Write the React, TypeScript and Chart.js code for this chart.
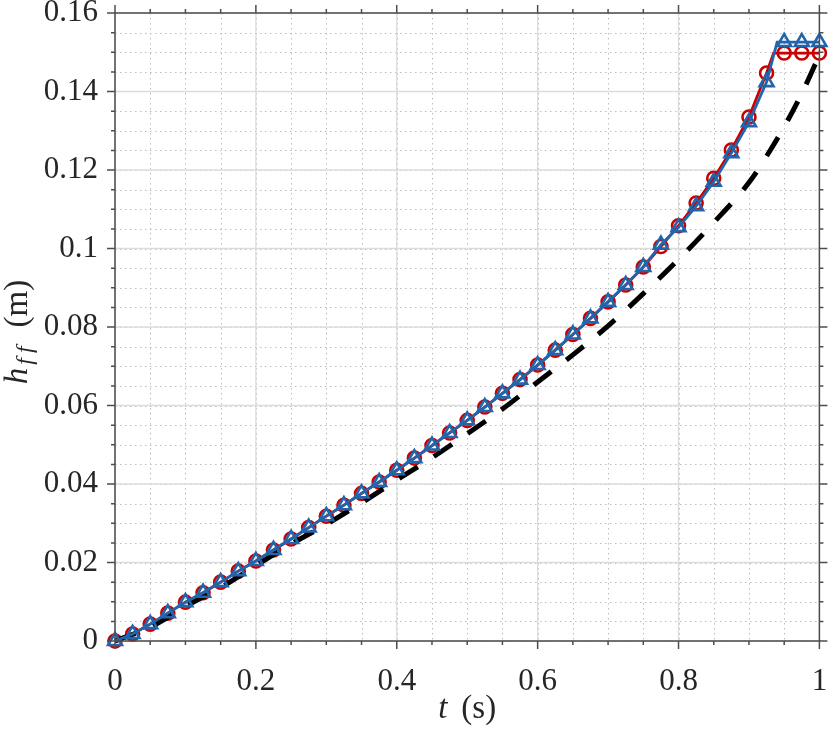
import React, { useEffect, useRef } from 'react';
import { Chart, registerables } from 'chart.js';

Chart.register(...registerables);

// ---------- data ----------
const tMarkers = [
  0, 0.025, 0.05, 0.075, 0.1, 0.125, 0.15, 0.175, 0.2, 0.225, 0.25, 0.275, 0.3, 0.325,
  0.35, 0.375, 0.4, 0.425, 0.45, 0.475, 0.5, 0.525, 0.55, 0.575, 0.6, 0.625, 0.65, 0.675,
  0.7, 0.725, 0.75, 0.775, 0.8, 0.825, 0.85, 0.875, 0.9, 0.925, 0.95, 0.975, 1,
];
const hRed = [
  0, 0.0018, 0.0043, 0.0071, 0.0099, 0.0123, 0.015, 0.0178, 0.0204, 0.0232, 0.026, 0.0289,
  0.0318, 0.0346, 0.0376, 0.0405, 0.0435, 0.0466, 0.0498, 0.053, 0.0562, 0.0596, 0.0631,
  0.0666, 0.0703, 0.0741, 0.0781, 0.0822, 0.0864, 0.0907, 0.0953, 0.1005, 0.1058, 0.1116,
  0.1179, 0.1251, 0.1335, 0.1447, 0.1498, 0.1498, 0.1498,
];
const hBlue = [
  0, 0.0018, 0.0043, 0.0071, 0.0099, 0.0123, 0.015, 0.0178, 0.0204, 0.0232, 0.026, 0.0289,
  0.0318, 0.0346, 0.0376, 0.0405, 0.0435, 0.0466, 0.0498, 0.053, 0.0562, 0.0596, 0.0631,
  0.0666, 0.0703, 0.0741, 0.0781, 0.0822, 0.0864, 0.0907, 0.0953, 0.101, 0.1054, 0.1108,
  0.117, 0.1243, 0.1322, 0.1424, 0.1526, 0.1526, 0.1526,
];
// where each series reaches its plateau (line only, no marker)
const redKink = { t: 0.935, h: 0.1498 };
const blueKink = { t: 0.94, h: 0.1526 };

const tDashed = [
  0, 0.05, 0.1, 0.15, 0.2, 0.25, 0.3, 0.35, 0.4, 0.45, 0.5, 0.55, 0.6, 0.65, 0.7, 0.75,
  0.8, 0.85, 0.9, 0.925, 0.95, 0.975, 1,
];
const hDashed = [
  0, 0.0035, 0.0088, 0.0136, 0.0192, 0.0247, 0.0297, 0.0352, 0.041, 0.0467, 0.0528,
  0.0591, 0.066, 0.0729, 0.0803, 0.0885, 0.0972, 0.1066, 0.1168, 0.1235, 0.131, 0.1395,
  0.1493,
];

const xMajorTicks = [0, 0.2, 0.4, 0.6, 0.8, 1];
const yMajorTicks = [0, 0.02, 0.04, 0.06, 0.08, 0.1, 0.12, 0.14, 0.16];
const xMinorStep = 0.05;
const yMinorStep = 0.005;

const FONT = "'Liberation Serif', 'Times New Roman', serif";
const RED = '#cc0000';
const BLUE = '#2166ac';
const AXIS = '#4d4d4d';
const TEXT = '#262626';

function seriesWithKink(ts: number[], hs: number[], kink: { t: number; h: number }) {
  const pts: any[] = ts.map((t, i) => ({ x: t, y: hs[i] }));
  const idx = pts.findIndex((p) => p.x > kink.t);
  pts.splice(idx, 0, { x: kink.t, y: kink.h, kink: true });
  return pts;
}

function minorValues(max: number, step: number) {
  const out: number[] = [];
  const n = Math.round(max / step);
  for (let i = 0; i <= n; i++) out.push(i * step);
  return out;
}

const axesPlugin = {
  id: 'matlabAxes',
  beforeDatasetsDraw(chart: any) {
    const { ctx, chartArea: a, scales } = chart;
    const x = scales.x;
    const y = scales.y;
    ctx.save();
    // minor dotted grid
    ctx.strokeStyle = '#bdbdbd';
    ctx.lineWidth = 1;
    ctx.setLineDash([1.5, 3.5]);
    for (const v of minorValues(1, xMinorStep)) {
      const px = Math.round(x.getPixelForValue(v)) + 0.5;
      ctx.beginPath();
      ctx.moveTo(px, a.top);
      ctx.lineTo(px, a.bottom);
      ctx.stroke();
    }
    for (const v of minorValues(0.16, yMinorStep)) {
      const py = Math.round(y.getPixelForValue(v)) + 0.5;
      ctx.beginPath();
      ctx.moveTo(a.left, py);
      ctx.lineTo(a.right, py);
      ctx.stroke();
    }
    // major grid
    ctx.setLineDash([]);
    ctx.strokeStyle = '#dcdcdc';
    ctx.lineWidth = 1.3;
    for (const v of xMajorTicks) {
      const px = x.getPixelForValue(v);
      ctx.beginPath();
      ctx.moveTo(px, a.top);
      ctx.lineTo(px, a.bottom);
      ctx.stroke();
    }
    for (const v of yMajorTicks) {
      const py = y.getPixelForValue(v);
      ctx.beginPath();
      ctx.moveTo(a.left, py);
      ctx.lineTo(a.right, py);
      ctx.stroke();
    }
    ctx.restore();
  },
  afterDatasetsDraw(chart: any) {
    const { ctx, chartArea: a, scales } = chart;
    const x = scales.x;
    const y = scales.y;
    ctx.save();
    ctx.strokeStyle = AXIS;
    ctx.lineWidth = 1.5;
    ctx.strokeRect(a.left, a.top, a.right - a.left, a.bottom - a.top);
    const isMajor = (v: number, list: number[]) => list.some((m) => Math.abs(m - v) < 1e-9);
    for (const v of minorValues(1, xMinorStep)) {
      const px = x.getPixelForValue(v);
      const len = isMajor(v, xMajorTicks) ? 8 : 4;
      ctx.beginPath();
      ctx.moveTo(px, a.bottom);
      ctx.lineTo(px, a.bottom + len);
      ctx.moveTo(px, a.top);
      ctx.lineTo(px, a.top - len);
      ctx.stroke();
    }
    for (const v of minorValues(0.16, yMinorStep)) {
      const py = y.getPixelForValue(v);
      const len = isMajor(v, yMajorTicks) ? 8 : 4;
      ctx.beginPath();
      ctx.moveTo(a.left, py);
      ctx.lineTo(a.left - len, py);
      ctx.moveTo(a.right, py);
      ctx.lineTo(a.right + len, py);
      ctx.stroke();
    }
    ctx.restore();
  },
  afterDraw(chart: any) {
    const { ctx, chartArea: a } = chart;
    ctx.save();
    ctx.fillStyle = TEXT;
    ctx.textBaseline = 'alphabetic';
    ctx.textAlign = 'left';
    // x title: t (s)
    const big = 33;
    const fItal = `italic ${big}px ${FONT}`;
    const fReg = `${big}px ${FONT}`;
    ctx.font = fItal;
    const wT = ctx.measureText('t').width;
    ctx.font = fReg;
    const wS = ctx.measureText('(s)').width;
    const cx = (a.left + a.right) / 2;
    const gapT = 14;
    const sx = cx - (wT + gapT + wS) / 2;
    const by = a.bottom + 77;
    ctx.font = fItal;
    ctx.fillText('t', sx, by);
    ctx.font = fReg;
    ctx.fillText('(s)', sx + wT + gapT, by);

    // y title: h_ff (m), rotated
    const small = 24;
    const fSub = `italic ${small}px ${FONT}`;
    ctx.font = fItal;
    const wH = ctx.measureText('h').width;
    ctx.font = fSub;
    const wF = ctx.measureText('f').width;
    const fAdv = wF + 5;
    ctx.font = fReg;
    const wM = ctx.measureText('(m)').width;
    const gap = 14;
    const total = wH + 3 + fAdv * 2 + gap + wM;
    const cy = (a.top + a.bottom) / 2 + 5;
    ctx.translate(27, cy);
    ctx.rotate(-Math.PI / 2);
    let px = -total / 2;
    ctx.font = fItal;
    ctx.fillText('h', px, 0);
    px += wH + 3;
    ctx.font = fSub;
    ctx.fillText('f', px, 5);
    ctx.fillText('f', px + fAdv, 5);
    px += fAdv * 2 + gap;
    ctx.font = fReg;
    ctx.fillText('(m)', px, 0);
    ctx.restore();
  },
};

function fmt(v: number) {
  return String(Number(v.toFixed(3)));
}

export default function App() {
  const ref = useRef<HTMLCanvasElement | null>(null);
  useEffect(() => {
    document.body.style.margin = '0';
    const canvas = ref.current;
    if (!canvas) return;
    const redData = seriesWithKink(tMarkers, hRed, redKink);
    const blueData = seriesWithKink(tMarkers, hBlue, blueKink);
    const dashData = tDashed.map((t, i) => ({ x: t, y: hDashed[i] }));
    const chart = new Chart(canvas, {
      type: 'line',
      data: {
        datasets: [
          {
            label: 'blue',
            data: blueData,
            borderColor: BLUE,
            backgroundColor: 'rgba(0,0,0,0)',
            borderWidth: 2.8,
            pointStyle: 'triangle',
            pointRadius: (c: any) => (c.raw && c.raw.kink ? 0 : 8),
            pointBorderWidth: 2.6,
            pointBorderColor: BLUE,
            pointBackgroundColor: 'rgba(0,0,0,0)',
            tension: 0,
            clip: false,
            order: 0,
          },
          {
            label: 'dashed',
            data: dashData,
            borderColor: '#000000',
            borderWidth: 5,
            borderDash: [22, 19],
            pointRadius: 0,
            cubicInterpolationMode: 'monotone',
            clip: false,
            order: 1,
          },
          {
            label: 'red',
            data: redData,
            borderColor: RED,
            backgroundColor: 'rgba(0,0,0,0)',
            borderWidth: 2.8,
            pointStyle: 'circle',
            pointRadius: (c: any) => (c.raw && c.raw.kink ? 0 : 6.5),
            pointBorderWidth: 2.6,
            pointBorderColor: RED,
            pointBackgroundColor: 'rgba(0,0,0,0)',
            tension: 0,
            clip: false,
            order: 2,
          },
        ] as any,
      },
      options: {
        animation: false,
        responsive: true,
        maintainAspectRatio: false,
        layout: { padding: { left: 0, right: 9, top: 13, bottom: 0 } },
        plugins: { legend: { display: false }, tooltip: { enabled: false } },
        scales: {
          x: {
            type: 'linear',
            min: 0,
            max: 1,
            grid: { display: false, drawTicks: false },
            border: { display: false },
            ticks: {
              stepSize: 0.2,
              padding: 22,
              color: TEXT,
              font: { family: FONT, size: 31 },
              maxRotation: 0,
              callback: (v: any) => fmt(Number(v)),
            },
            afterFit: (s: any) => {
              s.height = 94;
              s.paddingLeft = 0;
              s.paddingRight = 0;
            },
          },
          y: {
            type: 'linear',
            min: 0,
            max: 0.16,
            grid: { display: false, drawTicks: false },
            border: { display: false },
            ticks: {
              stepSize: 0.02,
              padding: 17,
              color: TEXT,
              font: { family: FONT, size: 31 },
              callback: (v: any) => fmt(Number(v)),
            },
            afterFit: (s: any) => {
              s.width = 115;
              s.paddingTop = 0;
              s.paddingBottom = 0;
            },
          },
        },
      } as any,
      plugins: [axesPlugin],
    });
    return () => chart.destroy();
  }, []);
  return (
    <div style={{ width: 830, height: 735, position: 'relative' }}>
      <canvas ref={ref} />
    </div>
  );
}
